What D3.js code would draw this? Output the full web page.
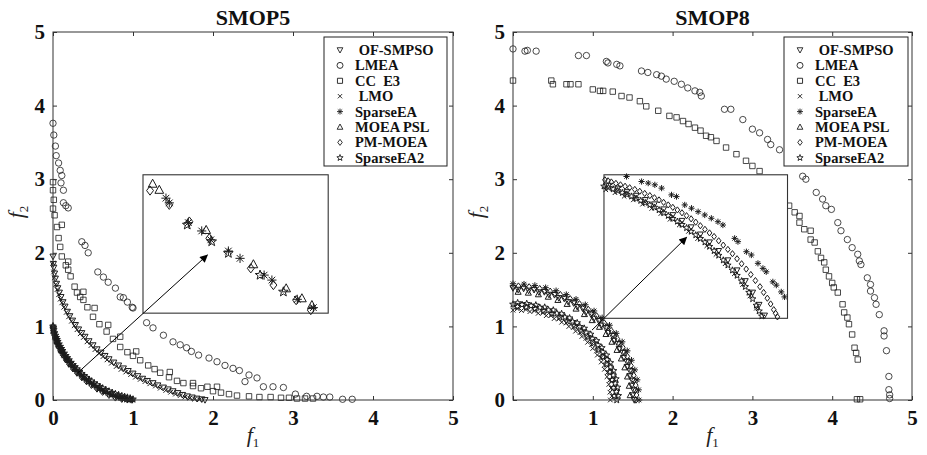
<!DOCTYPE html>
<html><head><meta charset="utf-8">
<script src="https://cdn.jsdelivr.net/npm/d3@7"></script>
<style>body{margin:0;background:#fff}</style>
</head><body>
<svg id="c" width="927" height="455"></svg>
<script>
// ---------- categories / legend ----------
const algorithms = ["\u00A0OF-SMPSO","LMEA","CC\u00A0\u00A0E3","\u00A0LMO","SparseEA","MOEA PSL","PM-MOEA","SparseEA2"];
const markerTypes = ["tridown","circle","square","x","asterisk","triup","diamond","star"];
const tickValues = [0,1,2,3,4,5];
const titles = ["SMOP5","SMOP8"];

// ---------- SMOP5 data ----------
const smop5_OFSMPSO = [[0,1.95],[0.005,1.85],[0.01,1.8],[0.02,1.72],[0.03,1.65],[0.045,1.58],[0.06,1.52],[0.08,1.46],[0.1,1.4],[0.125,1.33],[0.15,1.27],[0.18,1.2],[0.21,1.14],[0.245,1.08],[0.28,1.02],[0.32,0.96],[0.36,0.91],[0.4,0.86],[0.45,0.8],[0.5,0.745],[0.55,0.69],[0.6,0.645],[0.65,0.6],[0.7,0.555],[0.76,0.51],[0.82,0.47],[0.88,0.43],[0.94,0.395],[1.0,0.36],[1.06,0.325],[1.12,0.29],[1.18,0.26],[1.25,0.23],[1.31,0.2],[1.38,0.17],[1.44,0.145],[1.5,0.12],[1.56,0.095],[1.62,0.07],[1.68,0.05],[1.74,0.035],[1.8,0.02],[1.86,0.01],[1.9,0]];
const smop5_LMO = [[0,1.86],[0.008,1.74],[0.018,1.66],[0.035,1.57],[0.05,1.5],[0.07,1.43],[0.09,1.37],[0.11,1.32],[0.135,1.26],[0.165,1.19],[0.195,1.13],[0.23,1.07],[0.265,1.01],[0.3,0.955],[0.34,0.9],[0.38,0.85],[0.425,0.79],[0.475,0.74],[0.525,0.685],[0.575,0.635],[0.625,0.59],[0.675,0.545],[0.73,0.5],[0.79,0.455],[0.85,0.415],[0.91,0.38],[0.97,0.345],[1.03,0.31],[1.09,0.28],[1.15,0.25],[1.21,0.22],[1.28,0.19],[1.34,0.16],[1.41,0.13],[1.47,0.105],[1.53,0.08],[1.59,0.06],[1.65,0.04],[1.71,0.025],[1.77,0.012],[1.83,0.004]];
const smop5_LMEA = [[0,3.76],[0.01,3.6],[0.03,3.45],[0.04,3.32],[0.07,3.22],[0.09,3.12],[0.11,3.05],[0.1,2.95],[0.13,2.85],[0.13,2.68],[0.16,2.64],[0.19,2.61],[0.36,2.15],[0.4,2.1],[0.44,2.0],[0.56,1.74],[0.63,1.67],[0.69,1.6],[0.78,1.52],[0.84,1.4],[0.88,1.39],[0.93,1.33],[0.99,1.26],[1.0,1.25],[1.17,1.05],[1.25,0.98],[1.38,0.88],[1.5,0.79],[1.59,0.75],[1.67,0.71],[1.73,0.66],[1.82,0.61],[1.95,0.57],[2.05,0.52],[2.15,0.47],[2.25,0.43],[2.33,0.4],[2.45,0.34],[2.55,0.3],[2.4,0.25],[2.63,0.18],[2.75,0.18],[2.88,0.17],[3.03,0.08],[3.17,0.05],[3.3,0.05],[3.38,0.04],[3.46,0.04],[3.62,0.01],[3.74,0.01]];
const smop5_CCE3 = [[0,2.96],[0,2.85],[0.01,2.72],[0,2.6],[0.02,2.51],[0.11,2.38],[0.05,2.35],[0.07,2.2],[0.09,2.08],[0.11,1.95],[0.19,1.88],[0.16,1.83],[0.19,1.77],[0.22,1.68],[0.27,1.54],[0.3,1.46],[0.38,1.47],[0.34,1.4],[0.38,1.36],[0.43,1.26],[0.52,1.25],[0.5,1.13],[0.58,1.03],[0.69,1.02],[0.67,0.93],[0.84,0.86],[0.75,0.83],[0.84,0.72],[0.93,0.65],[1.04,0.66],[1.0,0.6],[1.09,0.54],[1.19,0.47],[1.27,0.42],[1.34,0.37],[1.46,0.38],[1.45,0.31],[1.55,0.26],[1.63,0.23],[1.75,0.23],[1.75,0.19],[1.85,0.16],[1.93,0.18],[2.05,0.18],[2.0,0.12],[2.1,0.1],[2.2,0.08],[2.3,0.06],[2.45,0.05],[2.58,0.04],[2.72,0.04],[2.85,0.03],[2.95,0.03],[3.05,0.02],[3.15,0.02],[3.25,0.02]];
const smop5_SparseEA = [[0,0.995],[0.005,0.946],[0.01,0.919],[0.02,0.877],[0.03,0.843],[0.04,0.812],[0.05,0.785],[0.06,0.759],[0.075,0.725],[0.09,0.692],[0.105,0.663],[0.12,0.635],[0.14,0.6],[0.16,0.568],[0.18,0.538],[0.2,0.509],[0.225,0.475],[0.25,0.444],[0.275,0.415],[0.3,0.386],[0.33,0.355],[0.36,0.324],[0.39,0.295],[0.42,0.269],[0.45,0.244],[0.48,0.22],[0.515,0.195],[0.55,0.17],[0.585,0.147],[0.62,0.126],[0.66,0.105],[0.7,0.084],[0.74,0.066],[0.78,0.049],[0.82,0.035],[0.86,0.021],[0.895,0.011],[0.93,0.004],[0.965,0.001],[0.995,0]];
const smop5_MOEAPSL = [[0,1.01],[0.01,0.934],[0.03,0.858],[0.05,0.8],[0.075,0.74],[0.105,0.678],[0.14,0.615],[0.18,0.553],[0.225,0.49],[0.275,0.43],[0.33,0.37],[0.39,0.31],[0.45,0.259],[0.515,0.21],[0.585,0.162],[0.66,0.12],[0.74,0.081],[0.82,0.05],[0.895,0.026],[0.965,0.013]];
const smop5_PMMOEA = [[0.005,0.926],[0.02,0.857],[0.04,0.792],[0.06,0.739],[0.09,0.672],[0.12,0.615],[0.16,0.548],[0.2,0.489],[0.25,0.424],[0.3,0.366],[0.36,0.304],[0.42,0.249],[0.48,0.2],[0.55,0.15],[0.62,0.106],[0.7,0.064],[0.78,0.029],[0.86,0.01],[0.93,0.002],[0.985,0]];
const smop5_SparseEA2 = [[0,1.0],[0.005,0.981],[0.01,0.954],[0.02,0.912],[0.03,0.878],[0.04,0.847],[0.05,0.82],[0.06,0.794],[0.075,0.76],[0.09,0.727],[0.105,0.698],[0.12,0.67],[0.14,0.635],[0.16,0.603],[0.18,0.573],[0.2,0.544],[0.225,0.51],[0.25,0.479],[0.275,0.45],[0.3,0.421],[0.33,0.39],[0.36,0.359],[0.39,0.33],[0.42,0.304],[0.45,0.279],[0.48,0.255],[0.515,0.23],[0.55,0.205],[0.585,0.182],[0.62,0.161],[0.66,0.14],[0.7,0.119],[0.74,0.101],[0.78,0.084],[0.82,0.07],[0.86,0.056],[0.895,0.046],[0.93,0.036],[0.965,0.025],[1.0,0.01]];
// SMOP5 inset (local 0-10 units)
const inset5_MOEAPSL = [[0.52,9.35],[0.88,8.91],[3.41,6.01],[5.96,3.53],[7.73,1.79],[8.58,1.07],[9.12,0.58]];
const inset5_PMMOEA = [[0.38,8.86],[1.42,7.83],[2.5,6.62],[3.58,5.41],[5.82,3.24],[7.04,2.03],[8.27,0.94],[9.06,0.22]];
const inset5_SparseEA = [[1.24,8.31],[1.42,7.97],[2.45,6.54],[3.17,5.94],[3.66,5.3],[4.61,4.49],[5.24,3.96],[6.54,2.75],[6.96,2.39],[8.33,1.0],[9.2,0.4]];
const inset5_SparseEA2 = [[2.39,6.38],[3.71,5.17],[4.61,4.33],[6.32,2.75],[7.58,1.54]];
const inset5Box = [1.125,3.44,1.18,3.06];
const arrow5 = [[0.31,0.37],[1.93,1.97]];

// ---------- SMOP8 data ----------
const smop8_OFSMPSO = [[1.52,0],[1.514,0.133],[1.497,0.264],[1.468,0.393],[1.428,0.52],[1.378,0.642],[1.316,0.76],[1.245,0.872],[1.164,0.977],[1.075,1.075],[0.977,1.164],[0.872,1.245],[0.76,1.316],[0.642,1.378],[0.52,1.428],[0.393,1.468],[0.264,1.497],[0.133,1.514],[0,1.52],
  [1.499,0.065],[1.487,0.196],[1.464,0.325],[1.431,0.451],[1.386,0.574],[1.331,0.693],[1.265,0.806],[1.19,0.913],[1.106,1.013],[1.013,1.106],[0.913,1.19],[0.806,1.265],[0.693,1.331],[0.574,1.386],[0.451,1.431],[0.325,1.464],[0.196,1.487],[0.065,1.499]];
const smop8_LMEA = [[0,4.77],[0.15,4.74],[0.18,4.75],[0.29,4.74],[0.82,4.68],[0.92,4.68],[1.17,4.6],[1.19,4.58],[1.3,4.56],[1.34,4.54],[1.61,4.47],[1.69,4.45],[1.8,4.42],[1.86,4.4],[1.92,4.36],[2.02,4.33],[2.11,4.29],[2.19,4.24],[2.28,4.2],[2.34,4.18],[2.36,4.13],[2.65,3.95],[2.73,3.95],[2.88,3.81],[3.0,3.68],[3.09,3.63],[3.19,3.54],[3.23,3.47],[3.34,3.4],[3.46,3.36],[3.63,3.04],[3.67,3.0],[3.8,2.82],[3.88,2.73],[3.92,2.64],[3.99,2.59],[4.07,2.41],[4.11,2.3],[4.19,2.18],[4.25,2.07],[4.32,1.98],[4.34,1.89],[4.36,1.84],[4.44,1.66],[4.48,1.57],[4.48,1.48],[4.53,1.39],[4.55,1.3],[4.59,1.16],[4.65,0.94],[4.65,0.87],[4.68,0.67],[4.71,0.32],[4.71,0.14],[4.72,0.07],[4.72,0.02]];
const smop8_CCE3 = [[0,4.34],[0.48,4.34],[0.5,4.29],[0.67,4.29],[0.72,4.29],[0.82,4.29],[1.0,4.22],[1.09,4.2],[1.13,4.2],[1.25,4.19],[1.36,4.13],[1.46,4.11],[1.59,4.06],[1.67,3.99],[1.82,3.93],[1.96,3.86],[2.05,3.84],[2.13,3.79],[2.2,3.75],[2.28,3.7],[2.35,3.66],[2.42,3.59],[2.48,3.57],[2.55,3.52],[2.67,3.43],[2.8,3.34],[2.92,3.25],[3.0,3.18],[3.09,3.11],[3.2,2.98],[3.3,2.85],[3.4,2.72],[3.46,2.64],[3.53,2.55],[3.59,2.5],[3.59,2.41],[3.65,2.32],[3.73,2.3],[3.73,2.18],[3.78,2.14],[3.82,2.02],[3.86,1.93],[3.9,1.87],[3.92,1.77],[3.96,1.68],[4.0,1.59],[4.02,1.53],[4.07,1.46],[4.13,1.3],[4.15,1.19],[4.19,1.12],[4.21,1.03],[4.25,0.89],[4.28,0.71],[4.3,0.64],[4.32,0.55],[4.31,0.01],[4.35,0.01]];
const smop8_LMO = [[1.239,0.054],[1.229,0.162],[1.211,0.268],[1.183,0.373],[1.146,0.475],[1.1,0.573],[1.046,0.666],[0.984,0.755],[0.914,0.838],[0.838,0.914],[0.755,0.984],[0.666,1.046],[0.573,1.1],[0.475,1.146],[0.373,1.183],[0.268,1.211],[0.162,1.229],[0.054,1.239],
  [1.22,0],[1.215,0.106],[1.201,0.212],[1.178,0.316],[1.146,0.417],[1.106,0.516],[1.057,0.61],[0.999,0.7],[0.935,0.784],[0.863,0.863],[0.784,0.935],[0.7,0.999],[0.61,1.057],[0.516,1.106],[0.417,1.146],[0.316,1.178],[0.212,1.201],[0.106,1.215],[0,1.22]];
const smop8_SparseEA = [[1.58,0],[1.574,0.138],[1.556,0.274],[1.526,0.409],[1.485,0.54],[1.432,0.668],[1.368,0.79],[1.294,0.906],[1.21,1.016],[1.117,1.117],[1.016,1.21],[0.906,1.294],[0.79,1.368],[0.668,1.432],[0.54,1.485],[0.409,1.526],[0.274,1.556],[0.138,1.574],[0,1.58]];
const smop8_MOEAPSL = [[1.469,0.064],[1.457,0.192],[1.435,0.318],[1.402,0.442],[1.358,0.563],[1.304,0.679],[1.24,0.79],[1.166,0.895],[1.084,0.993],[0.993,1.084],[0.895,1.166],[0.79,1.24],[0.679,1.304],[0.563,1.358],[0.442,1.402],[0.318,1.435],[0.192,1.457],[0.064,1.469]];
const smop8_PMMOEA = [[1.548,0.068],[1.537,0.202],[1.513,0.335],[1.478,0.466],[1.432,0.593],[1.375,0.716],[1.307,0.833],[1.23,0.944],[1.143,1.047],[1.047,1.143],[0.944,1.23],[0.833,1.307],[0.716,1.375],[0.593,1.432],[0.466,1.478],[0.335,1.513],[0.202,1.537],[0.068,1.548],
  [1.54,0],[1.534,0.134],[1.517,0.267],[1.487,0.399],[1.447,0.527],[1.396,0.651],[1.334,0.77],[1.262,0.883],[1.18,0.99],[1.089,1.089],[0.99,1.18],[0.883,1.262],[0.77,1.334],[0.651,1.396],[0.527,1.447],[0.399,1.487],[0.267,1.517],[0.134,1.534],[0,1.54]];
const smop8_SparseEA2 = [[1.3,0],[1.295,0.113],[1.28,0.226],[1.256,0.336],[1.222,0.445],[1.178,0.549],[1.126,0.65],[1.065,0.746],[0.996,0.836],[0.919,0.919],[0.836,0.996],[0.746,1.065],[0.65,1.126],[0.549,1.178],[0.445,1.222],[0.336,1.256],[0.226,1.28],[0.113,1.295],[0,1.3],
  [1.269,0.055],[1.259,0.166],[1.24,0.275],[1.211,0.382],[1.173,0.486],[1.126,0.586],[1.071,0.682],[1.008,0.773],[0.936,0.858],[0.858,0.936],[0.773,1.008],[0.682,1.071],[0.586,1.126],[0.486,1.173],[0.382,1.211],[0.275,1.24],[0.166,1.259],[0.055,1.269],
  [1.319,0.058],[1.309,0.172],[1.289,0.286],[1.259,0.397],[1.22,0.505],[1.171,0.609],[1.113,0.709],[1.047,0.804],[0.973,0.892],[0.892,0.973],[0.804,1.047],[0.709,1.113],[0.609,1.171],[0.505,1.22],[0.397,1.259],[0.286,1.289],[0.172,1.309],[0.058,1.319]];
// SMOP8 inset (local 0-10 units)
const inset8_SparseEA = [[1.23,9.88],[2.05,9.53],[2.41,9.42],[2.77,9.3],[3.14,9.07],[3.68,8.6],[3.95,8.48],[4.4,7.9],[4.77,7.67],[5.13,7.43],[5.49,7.2],[5.85,6.97],[6.21,6.73],[6.48,6.5],[7.12,5.57],[7.3,5.34],[7.76,4.64],[8.03,4.41],[8.39,3.83],[8.66,3.48],[8.84,3.24],[9.2,2.54],[9.39,2.31],[9.66,1.84],[9.84,1.49]];
const inset8_PMMOEA = [[0.05,9.65],[0.22,9.58],[0.4,9.5],[0.65,9.4],[0.9,9.3],[1.15,9.2],[1.4,9.1],[1.68,8.98],[1.95,8.85],[2.22,8.7],[2.5,8.55],[2.75,8.4],[3.0,8.25],[3.25,8.08],[3.5,7.9],[3.75,7.73],[4.0,7.55],[4.25,7.35],[4.5,7.15],[4.75,6.93],[5.0,6.7],[5.25,6.45],[5.5,6.2],[5.75,5.95],[6.0,5.7],[6.25,5.4],[6.5,5.1],[6.75,4.8],[7.0,4.5],[7.25,4.15],[7.5,3.8],[7.75,3.43],[8.0,3.05],[8.25,2.63],[8.5,2.2],[8.7,1.8],[8.9,1.4],[9.08,1.0],[9.25,0.6],[9.35,0.35],[9.45,0.1]];
const inset8_SparseEA2 = [[0.0,9.2],[0.25,9.1],[0.5,9.0],[0.75,8.88],[1.0,8.75],[1.25,8.63],[1.5,8.5],[1.75,8.35],[2.0,8.2],[2.25,8.05],[2.5,7.9],[2.75,7.73],[3.0,7.55],[3.25,7.35],[3.5,7.15],[3.75,6.95],[4.0,6.75],[4.25,6.53],[4.5,6.3],[4.75,6.05],[5.0,5.8],[5.25,5.55],[5.5,5.3],[5.75,5.0],[6.0,4.7],[6.25,4.38],[6.5,4.05],[6.75,3.7],[7.0,3.35],[7.25,2.98],[7.5,2.6],[7.7,2.2],[7.9,1.8],[8.1,1.35],[8.3,0.9],[8.45,0.5],[8.6,0.15]];
const inset8_OFSMPSO = [[0.25,9.25],[0.75,9.05],[1.25,8.8],[1.75,8.55],[2.25,8.25],[2.75,7.95],[3.25,7.6],[3.75,7.2],[4.25,6.8],[4.75,6.35],[5.25,5.85],[5.75,5.3],[6.25,4.7],[6.75,4.05],[7.25,3.35],[7.7,2.6],[8.1,1.8],[8.45,0.95],[8.75,0.2]];
const inset8_LMO = [[0.1,8.95],[0.6,8.75],[1.1,8.5],[1.6,8.25],[2.1,7.95],[2.6,7.65],[3.1,7.3],[3.6,6.9],[4.1,6.5],[4.6,6.05],[5.1,5.55],[5.6,5.05],[6.1,4.45],[6.6,3.8],[7.1,3.1],[7.55,2.35],[7.95,1.55],[8.3,0.7]];
const inset8Box = [1.14,3.44,1.11,3.06];
const arrow8 = [[0.99,0.95],[2.175,2.21]];

// ---------- marker shapes ----------
function markerPath(type, s) {
  const a = s * 0.72;
  switch (type) {
    case "tridown": return `M0,${s}L${-s*0.95},${-s*0.75}L${s*0.95},${-s*0.75}Z`;
    case "triup": return `M0,${-s}L${s*0.95},${s*0.75}L${-s*0.95},${s*0.75}Z`;
    case "circle": return `M${s},0A${s},${s} 0 1,1 ${-s},0A${s},${s} 0 1,1 ${s},0Z`;
    case "square": { const h = s*0.85; return `M${-h},${-h}H${h}V${h}H${-h}Z`; }
    case "x": return `M${-a},${-a}L${a},${a}M${-a},${a}L${a},${-a}`;
    case "asterisk": return `M0,${-s}V${s}M${-s},0H${s}M${-a},${-a}L${a},${a}M${-a},${a}L${a},${-a}`;
    case "diamond": return `M0,${-s}L${s*0.75},0L0,${s}L${-s*0.75},0Z`;
    case "star": {
      let p = "";
      for (let k = 0; k < 10; k++) {
        const r = k % 2 === 0 ? s*1.1 : s*0.45;
        const ang = -Math.PI/2 + k*Math.PI/5;
        p += (k === 0 ? "M" : "L") + (r*Math.cos(ang)).toFixed(2) + "," + (r*Math.sin(ang)).toFixed(2);
      }
      return p + "Z";
    }
  }
}

const svg = d3.select("#c");
const defs = svg.append("defs");
defs.append("marker").attr("id","arrowhead").attr("viewBox","0 0 10 10")
  .attr("refX",9).attr("refY",5).attr("markerWidth",10).attr("markerHeight",8)
  .attr("markerUnits","userSpaceOnUse").attr("orient","auto")
  .append("path").attr("d","M0,0L10,5L0,10Z").attr("fill","#000");

const SERIF = "'Liberation Serif','Times New Roman',serif";
const INK = "#1c1c1c";

const panels = [
  {
    title: titles[0], x0: 53, x1: 453, legX: 324, legW: 123,
    hideX0: false,
    series: [
      {i:1, d: smop5_LMEA, w:0.8}, {i:2, d: smop5_CCE3, w:0.8},
      {i:0, d: smop5_OFSMPSO, w:1.0}, {i:3, d: smop5_LMO, w:1.0},
      {i:4, d: smop5_SparseEA, w:1.0}, {i:5, d: smop5_MOEAPSL, w:1.0}, {i:6, d: smop5_PMMOEA, w:1.0}, {i:7, d: smop5_SparseEA2, w:1.0}
    ],
    insetBox: inset5Box, arrow: arrow5, insetSize: 4.6,
    inset: [{i:5, d: inset5_MOEAPSL}, {i:6, d: inset5_PMMOEA}, {i:4, d: inset5_SparseEA}, {i:7, d: inset5_SparseEA2}]
  },
  {
    title: titles[1], x0: 513, x1: 912, legX: 784, legW: 124,
    hideX0: true,
    series: [
      {i:1, d: smop8_LMEA, w:0.8}, {i:2, d: smop8_CCE3, w:0.8},
      {i:4, d: smop8_SparseEA, w:1.0}, {i:6, d: smop8_PMMOEA, w:1.0}, {i:0, d: smop8_OFSMPSO, w:1.0}, {i:5, d: smop8_MOEAPSL, w:1.0},
      {i:7, d: smop8_SparseEA2, w:1.0}, {i:3, d: smop8_LMO, w:1.0}
    ],
    insetBox: inset8Box, arrow: arrow8, insetSize: 3.1,
    inset: [{i:4, d: inset8_SparseEA}, {i:6, d: inset8_PMMOEA}, {i:7, d: inset8_SparseEA2}, {i:0, d: inset8_OFSMPSO}, {i:3, d: inset8_LMO}]
  }
];

function drawMarks(g, data, type, xs, ys, s, w) {
  g.selectAll(null).data(data).join("path")
    .attr("transform", d => `translate(${xs(d[0])},${ys(d[1])})`)
    .attr("d", markerPath(type, s))
    .attr("fill", "none").attr("stroke", INK).attr("stroke-width", w);
}

panels.forEach(p => {
  const x = d3.scaleLinear().domain([0,5]).range([p.x0, p.x1]);
  const y = d3.scaleLinear().domain([0,5]).range([400, 32]);
  const g = svg.append("g");

  p.series.forEach(s => drawMarks(g, s.d, markerTypes[s.i], x, y, 3.2, s.w));

  g.append("rect").attr("x", p.x0).attr("y", y(5)).attr("width", p.x1 - p.x0).attr("height", y(0) - y(5))
    .attr("fill","none").attr("stroke","#333").attr("stroke-width",1);

  const fmtX = d => (p.hideX0 && d === 0) ? "" : d;
  const axB = g.append("g").attr("transform", `translate(0,${y(0)})`)
    .call(d3.axisBottom(x).tickValues(tickValues).tickSize(-4).tickPadding(10).tickFormat(fmtX));
  const axT = g.append("g").attr("transform", `translate(0,${y(5)})`)
    .call(d3.axisTop(x).tickValues(tickValues).tickSize(-4).tickFormat(""));
  const axL = g.append("g").attr("transform", `translate(${p.x0},0)`)
    .call(d3.axisLeft(y).tickValues(tickValues).tickSize(-4).tickPadding(8).tickFormat(d => d));
  const axR = g.append("g").attr("transform", `translate(${p.x1},0)`)
    .call(d3.axisRight(y).tickValues(tickValues).tickSize(-4).tickFormat(""));
  [axB, axT, axL, axR].forEach(a => {
    a.select(".domain").remove();
    a.selectAll(".tick line").attr("stroke", "#333");
    a.selectAll("text").attr("font-family", SERIF).attr("font-weight", "bold")
      .attr("font-size", 21).attr("fill", "#111");
  });

  g.append("text").attr("x", (p.x0 + p.x1)/2).attr("y", 25).attr("text-anchor","middle")
    .attr("font-family", SERIF).attr("font-weight","bold").attr("font-size", 22).attr("fill","#111")
    .text(p.title);

  const xl = g.append("text").attr("x", (p.x0 + p.x1)/2).attr("y", 442).attr("text-anchor","middle")
    .attr("font-family", SERIF).attr("font-size", 22).attr("fill","#222");
  xl.append("tspan").attr("font-style","italic").text("f");
  xl.append("tspan").attr("font-size", 13).attr("dy", 5).text("1");
  const yl = g.append("text").attr("transform", `translate(${p.x0 - 30},212) rotate(-90)`).attr("text-anchor","middle")
    .attr("font-family", SERIF).attr("font-size", 22).attr("fill","#222");
  yl.append("tspan").attr("font-style","italic").text("f");
  yl.append("tspan").attr("font-size", 13).attr("dy", 5).text("2");

  const b = p.insetBox;
  const ix = d3.scaleLinear().domain([0,10]).range([x(b[0]), x(b[1])]);
  const iy = d3.scaleLinear().domain([0,10]).range([y(b[2]), y(b[3])]);
  g.append("rect").attr("x", x(b[0])).attr("y", y(b[3])).attr("width", x(b[1]) - x(b[0])).attr("height", y(b[2]) - y(b[3]))
    .attr("fill","#fff").attr("stroke","#333").attr("stroke-width",1.1);
  p.inset.forEach(s => drawMarks(g, s.d, markerTypes[s.i], ix, iy, p.insetSize, 1.0));

  g.append("line").attr("x1", x(p.arrow[0][0])).attr("y1", y(p.arrow[0][1]))
    .attr("x2", x(p.arrow[1][0])).attr("y2", y(p.arrow[1][1]))
    .attr("stroke","#000").attr("stroke-width",1).attr("marker-end","url(#arrowhead)");

  const lg = g.append("g").attr("transform", `translate(${p.legX},37)`);
  lg.append("rect").attr("width", p.legW).attr("height", 129).attr("fill","#fff").attr("stroke","#222").attr("stroke-width",1);
  algorithms.forEach((name, k) => {
    const ry = 13 + k*15.4;
    lg.append("path").attr("transform", `translate(16,${ry})`).attr("d", markerPath(markerTypes[k], 3))
      .attr("fill","none").attr("stroke", INK).attr("stroke-width", 0.9);
    lg.append("text").attr("x", 31).attr("y", ry).attr("dy","0.35em")
      .attr("font-family", SERIF).attr("font-weight","bold").attr("font-size", 14.5).attr("fill","#111")
      .text(name);
  });
});
</script>
</body></html>
